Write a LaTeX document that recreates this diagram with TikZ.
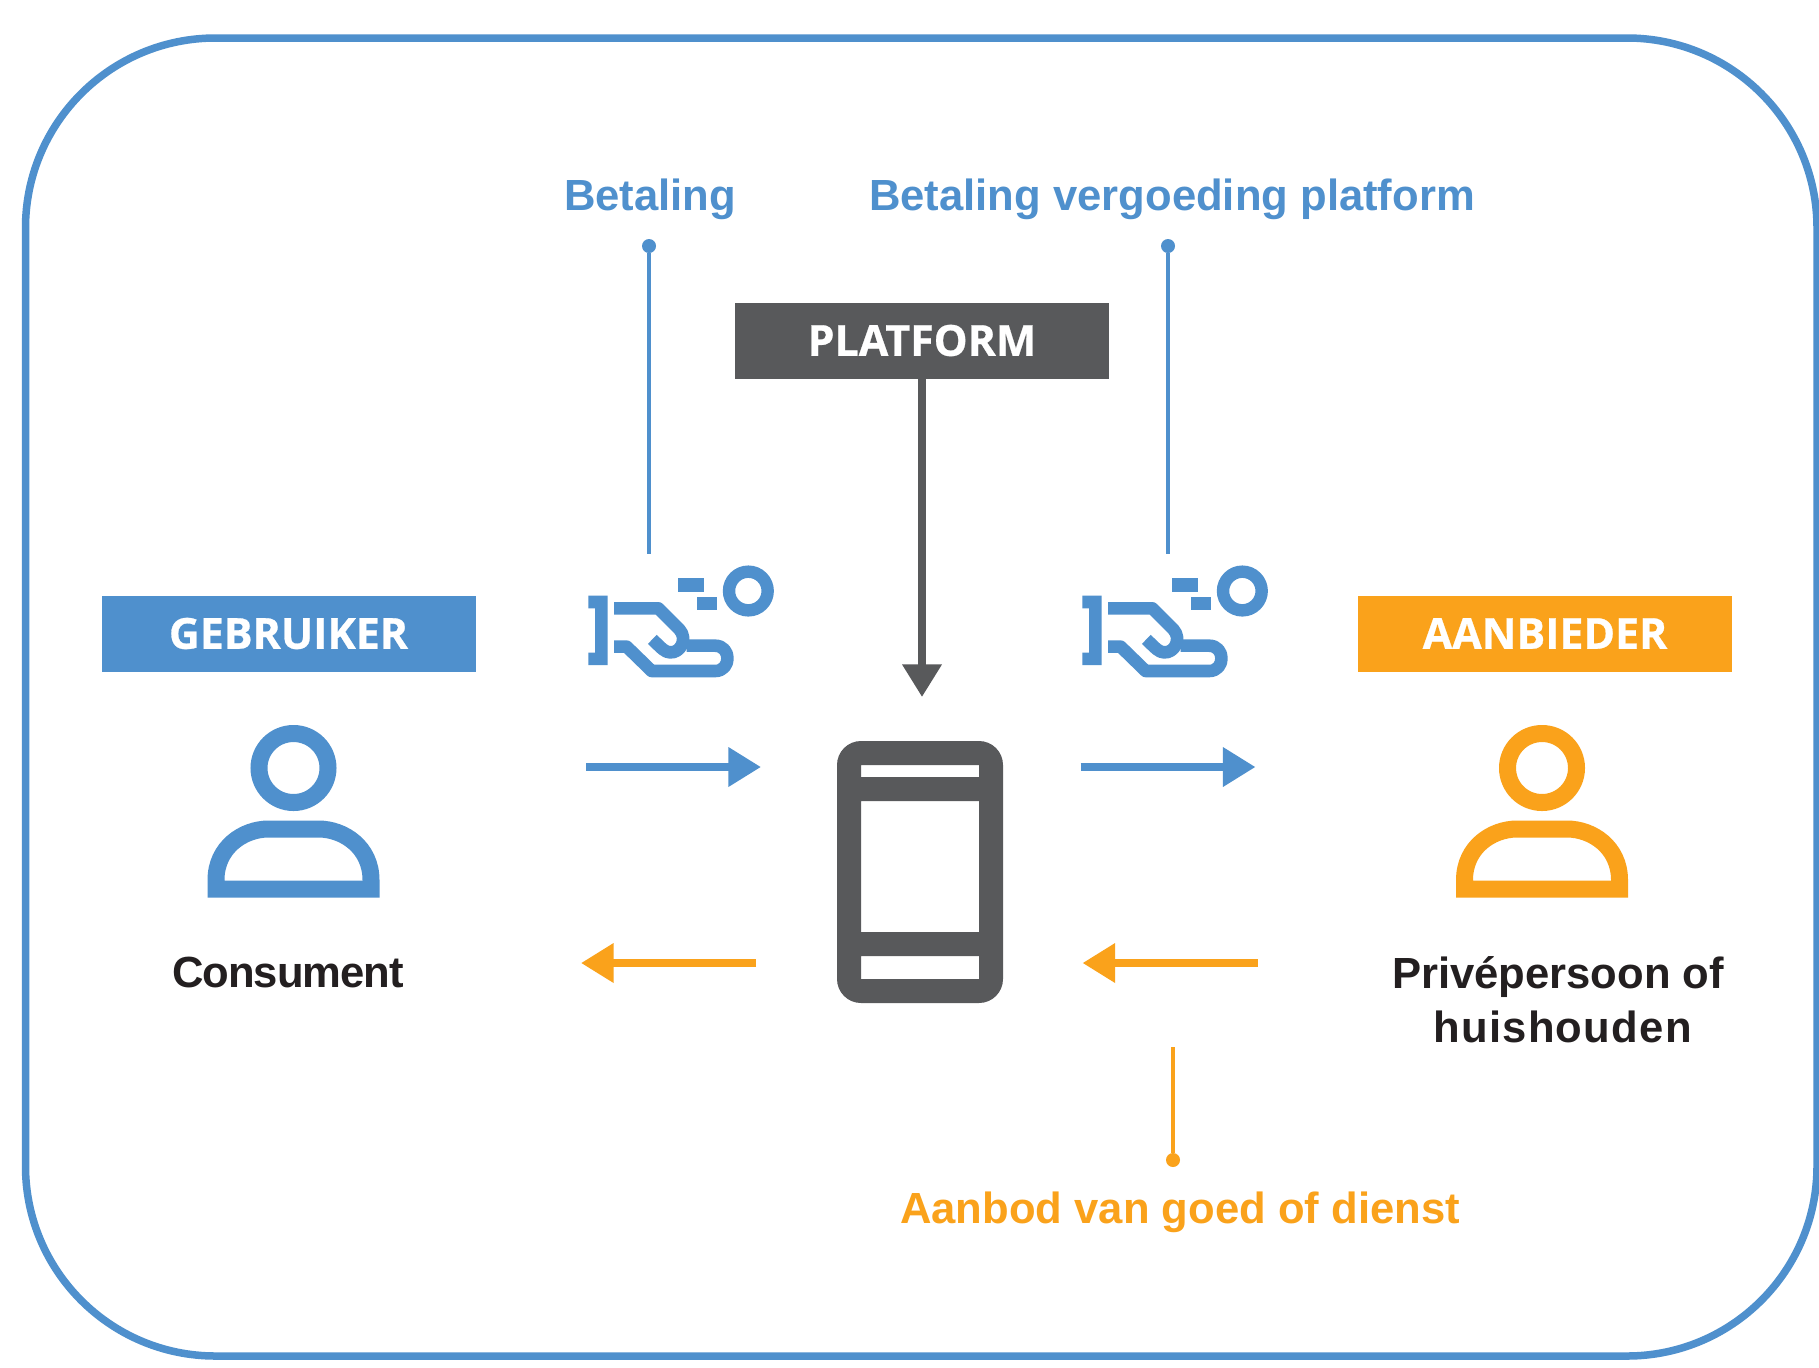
\documentclass[tikz,border=0pt]{standalone}
\usepackage{fontspec}
\setmainfont{Liberation Sans}
\newfontfamily\boxfont[BoldFeatures={FakeBold=0.6}]{Open Sans}
\usetikzlibrary{arrows.meta}
\definecolor{cblue}{HTML}{4F90CD}
\definecolor{corange}{HTML}{FAA21B}
\definecolor{cgray}{HTML}{58595B}
\definecolor{cink}{HTML}{231F20}
\tikzset{
  x=0.5pt,y=-0.5pt,
  framebox/.style={draw=cblue,line width=3.75pt,rounded corners=95pt},
  tagbox/.style={fill=#1,inner sep=0pt,minimum width=187pt,minimum height=38pt,text=white,font=\boxfont\bfseries\fontsize{21.4}{24}\selectfont},
  lbl/.style={text=#1,anchor=base,inner sep=0pt,font=\bfseries\fontsize{21.8}{27}\selectfont,align=center},
  flow/.style={draw=#1,line width=4pt,-{Triangle[length=16.3pt,width=18.8pt,fill=#1]}},
  leader/.style={draw=#1,line width=2.1pt},
  leaderdot/.style={circle,fill=#1,inner sep=0pt,minimum size=7pt},
  pics/personicon/.style={code={
    \draw[#1,line width=8.5pt] (0,-34) circle[radius=17.25pt];
    \draw[#1,line width=8.5pt,miter limit=10] (-77.5,87) -- (-77.5,78) .. controls (-77.5,45) and (-50,27) .. (-25,27) -- (25,27) .. controls (50,27) and (77.5,45) .. (77.5,78) -- (77.5,87) -- cycle;
  }},
  pics/handicon/.style={code={
    \begin{scope}[x=0.16667pt,y=-0.16667pt]
      \fill[#1] (85,167) -- (143,167) -- (143,375) -- (85,375) -- (85,338) -- (105,338) -- (105,205) -- (85,205) -- cycle;
      \fill[#1] (355,115) rectangle (432,155);
      \fill[#1] (412,172) rectangle (470,211);
      \draw[#1,line width=6.2pt] (565,153) circle[radius=9.67pt];
      \draw[#1,line width=6.3pt,line join=round] (162,205) -- (295,205) -- (358,268) .. controls (385,298) and (360,340) .. (330,337) .. controls (315,337) and (305,325) .. (277,298);
      \draw[#1,line width=6.3pt,line join=round] (162,320) -- (200,320) -- (275,393) -- (465,393) .. controls (515,393) and (515,317) .. (465,317) -- (380,317);
    \end{scope}
  }}
}
\begin{document}
\begin{tikzpicture}
\useasboundingbox (0,0) rectangle (1819,1367);
\fill[white] (0,0) rectangle (1819,1367);
\draw[framebox] (25.5,38) rectangle (1817,1356);

\node[tagbox=cgray] (platform) at (922,340.5) {PLATFORM};
\node[tagbox=cblue] (gebruiker) at (288.5,633.5) {GEBRUIKER};
\node[tagbox=corange] (aanbieder) at (1545,633.5) {AANBIEDER};

\pic (p1) at (293.5,802) {personicon=cblue};
\pic (p2) at (1542,802) {personicon=corange};
\pic (h1) at (560,540) {handicon=cblue};
\pic (h2) at (1054,540) {handicon=cblue};

\fill[cgray,even odd rule]
  [rounded corners=12pt] (837,741) rectangle (1003,1003)
  [sharp corners] (861,765) rectangle (979,777)
  (861,801) rectangle (979,932)
  (861,956) rectangle (979,979);

\coordinate (pf) at (922,697);
\coordinate (b1a) at (586,767); \coordinate (b1b) at (761,767);
\coordinate (b2a) at (1080.5,767); \coordinate (b2b) at (1255.5,767);
\coordinate (o1a) at (756,963); \coordinate (o1b) at (581,963);
\coordinate (o2a) at (1257.5,963); \coordinate (o2b) at (1082.5,963);
\draw[flow=cgray] (platform.south) -- (pf);
\draw[flow=cblue] (b1a) -- (b1b);
\draw[flow=cblue] (b2a) -- (b2b);
\draw[flow=corange] (o1a) -- (o1b);
\draw[flow=corange] (o2a) -- (o2b);

\node[leaderdot=cblue] (d1) at (649,246) {};
\node[leaderdot=cblue] (d2) at (1168,246) {};
\node[leaderdot=corange] (d3) at (1173,1160) {};
\coordinate (e1) at (649,554); \coordinate (e2) at (1168,554); \coordinate (e3) at (1173,1047);
\draw[leader=cblue] (d1) -- (e1);
\draw[leader=cblue] (d2) -- (e2);
\draw[leader=corange] (d3) -- (e3);

\node[lbl=cblue] (t1) at (650,210) {Betaling};
\node[lbl=cblue] (t2) at (1172,210) {Betaling vergoeding platform};
\node[lbl=corange] (t3) at (1180,1223) {Aanbod van goed of dienst};
\node[lbl=cink] (t4) at (288,987) {\addfontfeature{LetterSpace=-2.4}Consument};
\node[lbl=cink] (t5) at (1558,1042) {Privépersoon of\\\hspace*{4.6pt}{\addfontfeature{LetterSpace=2.9}huishouden}};
\end{tikzpicture}
\end{document}
